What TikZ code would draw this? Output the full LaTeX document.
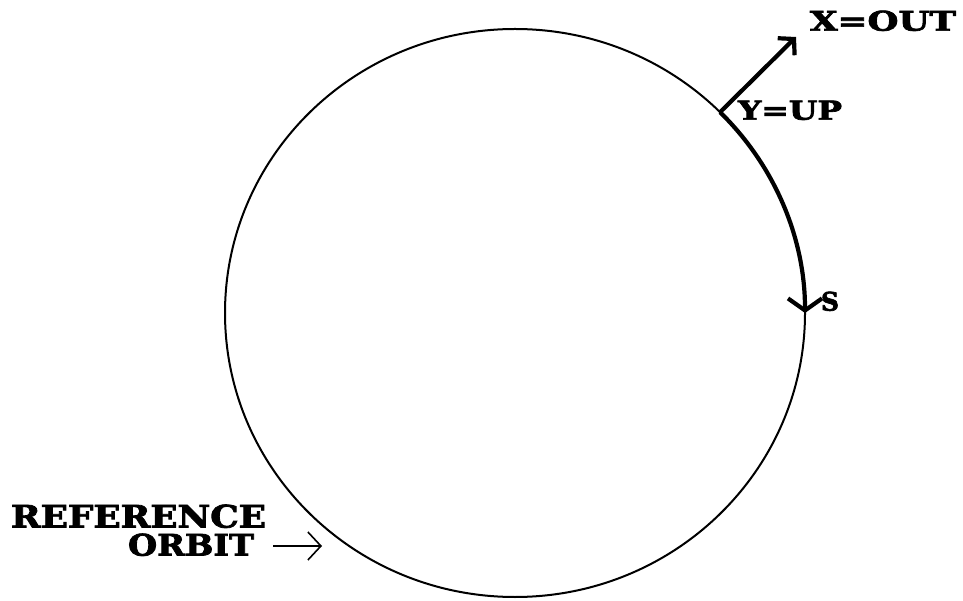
\documentclass[tikz,border=0pt]{standalone}
\usepackage{fontspec}
\usepackage{graphicx}
\setmainfont{DejaVu Serif}
\newfontfamily\heavy{DejaVu Serif}[BoldFeatures={FakeBold=2.5}]
\usetikzlibrary{arrows.meta,calc}
\tikzset{
  lbl/.style={anchor=south west, inner sep=0pt, outer sep=0pt},
  orbit/.style={line width=2pt},
  thickline/.style={line width=4.2pt},
}
\newcommand{\lab}[3]{\resizebox{#1pt}{#2pt}{\heavy\bfseries #3}}
\begin{document}
\begin{tikzpicture}[x=1pt,y=1pt]
\useasboundingbox (0,0) rectangle (963,600);
\coordinate (c) at (515,287);
\draw[orbit] (c) ellipse [x radius=290pt, y radius=284pt];
% start point of the thick arc on the orbit
\coordinate (p) at ($(c)+(45:290pt and 284pt)$);
\coordinate (xtip) at (796,563);
\draw[thickline, -{Straight Barb[length=11pt,width=24pt]}] (p) -- (xtip);
\draw[thickline, -{Straight Barb[length=12pt,width=34pt]}] (p) arc[start angle=45, end angle=0, x radius=290pt, y radius=284pt] coordinate (stip);
\node[lbl] (xout) at (810,569) {\lab{146}{20}{X=OUT}};
\node[lbl] (yup) at (738,480) {\lab{104}{19}{Y=UP}};
\node[lbl] (s) at (821,289) {\lab{18}{19}{S}};
\node[lbl] (ref) at (11,72) {\lab{255}{23}{REFERENCE}};
\node[lbl] (orb) at (128,44) {\lab{126}{22}{ORBIT}};
\coordinate (a1) at (273,54);
\coordinate (a2) at (322,54);
\draw[line width=1.6pt, -{Straight Barb[length=13pt,width=28pt,line width=1.6pt]}] (a1) -- (a2);
\end{tikzpicture}
\end{document}
